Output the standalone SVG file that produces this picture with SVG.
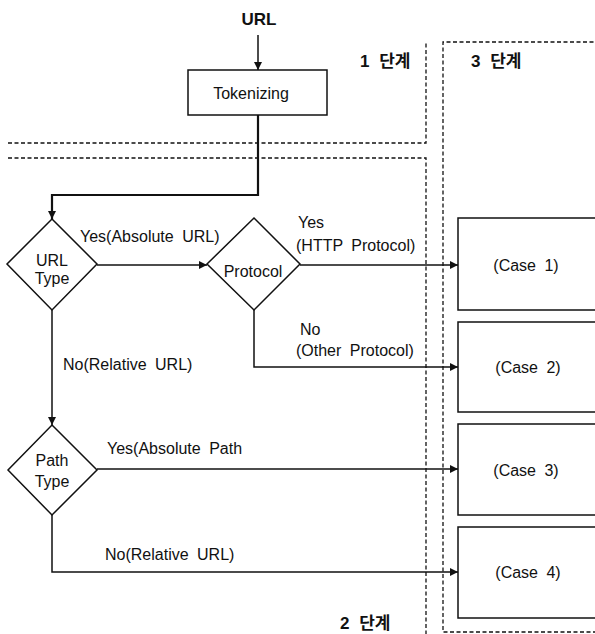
<svg xmlns="http://www.w3.org/2000/svg" width="595" height="634" viewBox="0 0 595 634">
<defs>
<style>
text{font-family:"Liberation Sans","Noto Sans CJK KR",Arial,sans-serif;fill:#111;}
.lbl{font-size:16px;word-spacing:4px;}
.nt{font-size:16px;text-anchor:middle;word-spacing:4px;}
.stage{font-size:17px;font-weight:bold;word-spacing:5px;}
.box{fill:#fff;stroke:#111;stroke-width:1.5;}
.ln{fill:none;stroke:#111;stroke-width:1.5;}
.thick{fill:none;stroke:#111;stroke-width:2.2;}
.dash{fill:none;stroke:#111;stroke-width:1.3;stroke-dasharray:4 2.5;}
</style>
<marker id="arr" viewBox="0 0 10 10" refX="10" refY="5" markerWidth="8" markerHeight="8" markerUnits="userSpaceOnUse" orient="auto">
<path d="M0,0 L10,5 L0,10 z" fill="#111"/>
</marker>
</defs>
<rect width="595" height="634" fill="#fff"/>
<g id="stages">
<path class="dash" d="M8,143 H426 V42"/>
<path class="dash" d="M8,158 H426 V634"/>
<path class="dash" d="M600,42 H443 V632 H600"/>
<text class="stage" x="360" y="67">1 단계</text>
<text class="stage" x="340" y="629">2 단계</text>
<text class="stage" x="471" y="67">3 단계</text>
</g>
<g id="connectors">
<path class="ln" d="M258,35 V70" marker-end="url(#arr)"/>
<path class="thick" d="M258,115 V195 H52 V219" marker-end="url(#arr)"/>
<path class="ln" d="M97,265 H207" marker-end="url(#arr)"/>
<path class="ln" d="M300,265 H458" marker-end="url(#arr)"/>
<path class="ln" d="M254,310 V367 H458" marker-end="url(#arr)"/>
<path class="ln" d="M52,310 V425" marker-end="url(#arr)"/>
<path class="ln" d="M97,469 H458" marker-end="url(#arr)"/>
<path class="ln" d="M52,515 V572 H458" marker-end="url(#arr)"/>
<text class="lbl" x="80" y="242">Yes(Absolute URL)</text>
<text class="lbl" x="298" y="228">Yes</text>
<text class="lbl" x="296" y="251">(HTTP Protocol)</text>
<text class="lbl" x="300" y="335">No</text>
<text class="lbl" x="296" y="356">(Other Protocol)</text>
<text class="lbl" x="63" y="370">No(Relative URL)</text>
<text class="lbl" x="107" y="454">Yes(Absolute Path</text>
<text class="lbl" x="105" y="560">No(Relative URL)</text>
</g>
<g id="url">
<text x="259" y="25" font-size="17" font-weight="bold" text-anchor="middle">URL</text>
</g>
<g id="tokenizing">
<rect class="box" x="188" y="70" width="139" height="45"/>
<text class="nt" x="251" y="99">Tokenizing</text>
</g>
<g id="urltype">
<path class="box" d="M52,219 L97,264 L52,310 L7,264 Z"/>
<text class="nt" x="52" y="266">URL</text>
<text class="nt" x="52" y="284">Type</text>
</g>
<g id="protocol">
<path class="box" d="M254,218 L300,264 L254,310 L207,264 Z"/>
<text class="nt" x="253" y="277">Protocol</text>
</g>
<g id="pathtype">
<path class="box" d="M52,425 L97,470 L52,515 L8,470 Z"/>
<text class="nt" x="52" y="466">Path</text>
<text class="nt" x="52" y="487">Type</text>
</g>
<g id="case1">
<rect class="box" x="458" y="218" width="150" height="92"/>
<text class="nt" x="526" y="271">(Case 1)</text>
</g>
<g id="case2">
<rect class="box" x="458" y="322" width="150" height="90"/>
<text class="nt" x="528" y="373">(Case 2)</text>
</g>
<g id="case3">
<rect class="box" x="458" y="424" width="150" height="91"/>
<text class="nt" x="526" y="476">(Case 3)</text>
</g>
<g id="case4">
<rect class="box" x="458" y="527" width="150" height="91"/>
<text class="nt" x="528" y="578">(Case 4)</text>
</g>
</svg>
